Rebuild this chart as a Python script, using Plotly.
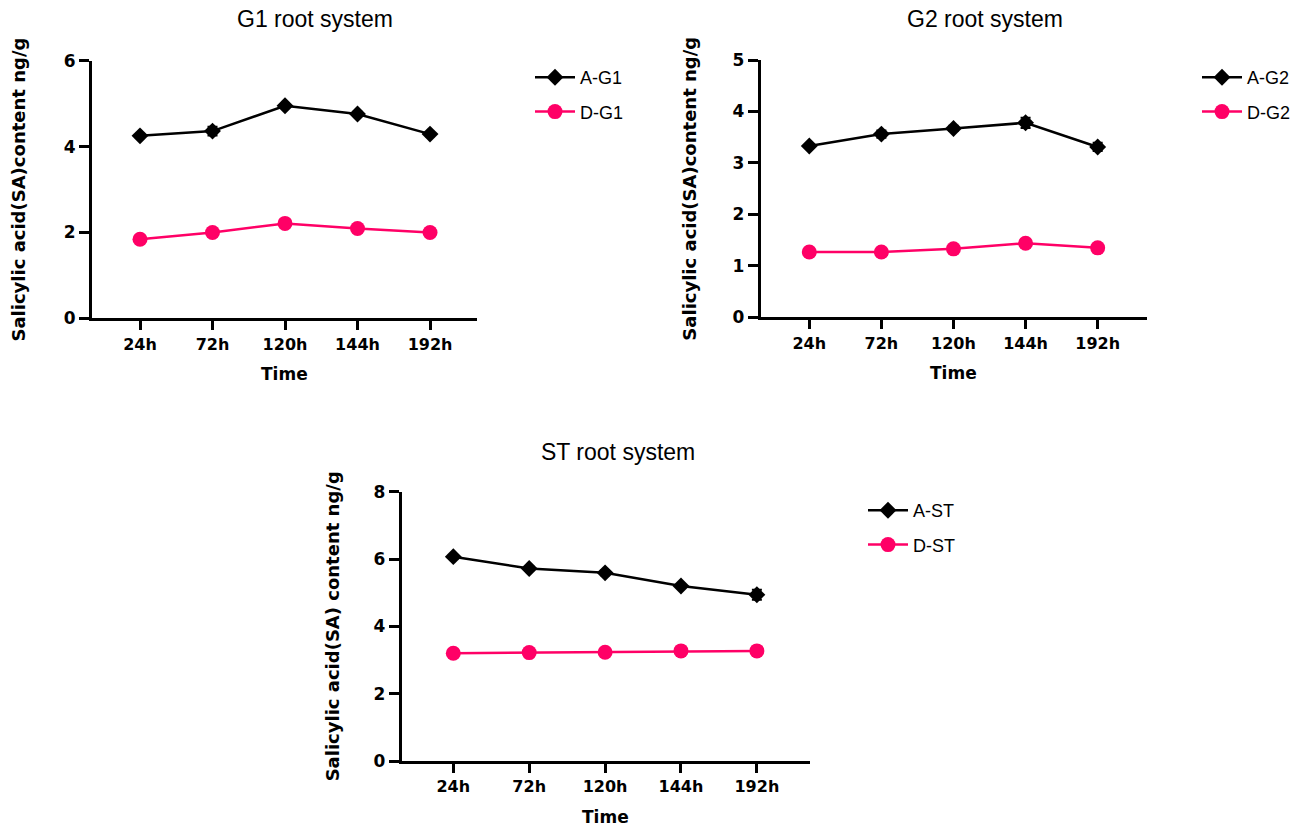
import plotly.graph_objects as go

# ---- data ---------------------------------------------------------------
time_points = ["24h", "72h", "120h", "144h", "192h"]

a_g1 = [4.25, 4.36, 4.95, 4.76, 4.29]
d_g1 = [1.84, 2.00, 2.21, 2.09, 2.00]
a_g1_err = [0.04, 0.10, 0.05, 0.05, 0.05]
d_g1_err = [0.05, 0.05, 0.05, 0.05, 0.04]

a_g2 = [3.33, 3.56, 3.67, 3.78, 3.31]
d_g2 = [1.27, 1.27, 1.33, 1.44, 1.35]
a_g2_err = [0.04, 0.07, 0.05, 0.10, 0.08]
d_g2_err = [0.04, 0.04, 0.04, 0.05, 0.04]

a_st = [6.07, 5.72, 5.59, 5.20, 4.94]
d_st = [3.20, 3.22, 3.23, 3.27, 3.27]
a_st_err = [0.05, 0.06, 0.07, 0.05, 0.15]
d_st_err = [0.05, 0.05, 0.05, 0.05, 0.06]

# ---- layout helpers -----------------------------------------------------
W, H = 1311, 829
BLACK = "#000000"
PINK = "#FF0066"
BOLD = "DejaVu Sans"
PLAIN = "Arial, Liberation Sans, sans-serif"
TITLE = "Arial, Liberation Sans, sans-serif"


def px_x(p):
    return p / W


def px_y(p):
    return 1 - p / H


panels = [
    dict(tag="G1", a=a_g1, d=d_g1, ae=a_g1_err, de=d_g1_err,
         x0=92, x1=477, y0=318.3, y1=60.7, ymax=6, dtick=2,
         lo=(-0.662, 4.648), leg=(530, 59), title=(315, 19), ytx=18),
    dict(tag="G2", a=a_g2, d=d_g2, ae=a_g2_err, de=d_g2_err,
         x0=760.7, x1=1146.7, y0=317.3, y1=60.0, ymax=5, dtick=1,
         lo=(-0.674, 4.68), leg=(1197, 59), title=(985, 19), ytx=690),
    dict(tag="ST", a=a_st, d=d_st, ae=a_st_err, de=d_st_err,
         x0=401.7, x1=810, y0=761, y1=491.7, ymax=8, dtick=2,
         lo=(-0.68, 4.70), leg=(863, 492), title=(618, 452), ytx=332),
]

fig = go.Figure()
annotations = []
layout = dict(
    template="none",
    width=W, height=H, autosize=False,
    margin=dict(l=0, r=0, t=0, b=0, pad=0),
    paper_bgcolor="white", plot_bgcolor="white",
    showlegend=True,
)

for i, p in enumerate(panels, start=1):
    xa = "x" if i == 1 else f"x{i}"
    ya = "y" if i == 1 else f"y{i}"
    lg = "legend" if i == 1 else f"legend{i}"
    xs = list(range(len(time_points)))

    fig.add_trace(go.Scatter(
        x=xs, y=p["a"], name=f"A-{p['tag']}", legendgroup=f"A{i}",
        mode="lines+markers", xaxis=xa, yaxis=ya, legend=lg,
        line=dict(color=BLACK, width=2.5),
        marker=dict(symbol="diamond", size=13, color=BLACK),
        error_y=dict(type="data", array=p["ae"], color=BLACK, thickness=2, width=5),
    ))
    fig.add_trace(go.Scatter(
        x=xs, y=p["d"], name=f"D-{p['tag']}", legendgroup=f"D{i}",
        mode="lines+markers", xaxis=xa, yaxis=ya, legend=lg,
        line=dict(color=PINK, width=2.5),
        marker=dict(symbol="circle", size=15, color=PINK),
        error_y=dict(type="data", array=p["de"], color=PINK, thickness=2, width=5),
    ))

    xkey = "xaxis" if i == 1 else f"xaxis{i}"
    ykey = "yaxis" if i == 1 else f"yaxis{i}"
    layout[xkey] = dict(
        domain=[px_x(p["x0"]), px_x(p["x1"])], anchor=ya, automargin=False,
        range=list(p["lo"]), tickmode="array",
        tickvals=xs, ticktext=time_points,
        showline=True, linecolor=BLACK, linewidth=3,
        ticks="outside", ticklen=9, tickwidth=2.5, tickcolor=BLACK,
        showgrid=False, zeroline=False,
        tickfont=dict(family=BOLD, size=16, color=BLACK, weight="bold"),
    )
    layout[ykey] = dict(
        domain=[px_y(p["y0"]), px_y(p["y1"])], anchor=xa, automargin=False,
        range=[0, p["ymax"]], dtick=p["dtick"], tick0=0,
        showline=True, linecolor=BLACK, linewidth=3,
        ticks="outside", ticklen=10, tickwidth=2.5, tickcolor=BLACK,
        showgrid=False, zeroline=False,
        tickfont=dict(family=BOLD, size=17, color=BLACK, weight="bold"),
    )
    layout[lg] = dict(
        x=px_x(p["leg"][0]), y=px_y(p["leg"][1]),
        xanchor="left", yanchor="top",
        bgcolor="rgba(0,0,0,0)", borderwidth=0,
        font=dict(family=PLAIN, size=18, color=BLACK),
        itemwidth=40, tracegroupgap=8,
    )

    # panel title
    annotations.append(dict(
        text=f"{p['tag']} root system", x=px_x(p["title"][0]), y=px_y(p["title"][1]),
        xref="paper", yref="paper", showarrow=False,
        xanchor="center", yanchor="middle",
        font=dict(family=TITLE, size=23, color=BLACK),
    ))
    # x-axis title
    annotations.append(dict(
        text="Time", x=px_x((p["x0"] + p["x1"]) / 2), y=px_y(p["y0"] + 56),
        xref="paper", yref="paper", showarrow=False,
        xanchor="center", yanchor="middle",
        font=dict(family=BOLD, size=17, color=BLACK, weight="bold"),
    ))
    # y-axis title
    ylabel = ("Salicylic acid(SA) content ng/g" if p["tag"] == "ST"
              else "Salicylic acid(SA)content ng/g")
    annotations.append(dict(
        text=ylabel, x=px_x(p["ytx"]), y=px_y((p["y0"] + p["y1"]) / 2),
        xref="paper", yref="paper", showarrow=False, textangle=-90,
        xanchor="center", yanchor="middle",
        font=dict(family=BOLD, size=18, color=BLACK, weight="bold"),
    ))

layout["annotations"] = annotations
fig.update_layout(**layout)

fig.write_html("out.html")
